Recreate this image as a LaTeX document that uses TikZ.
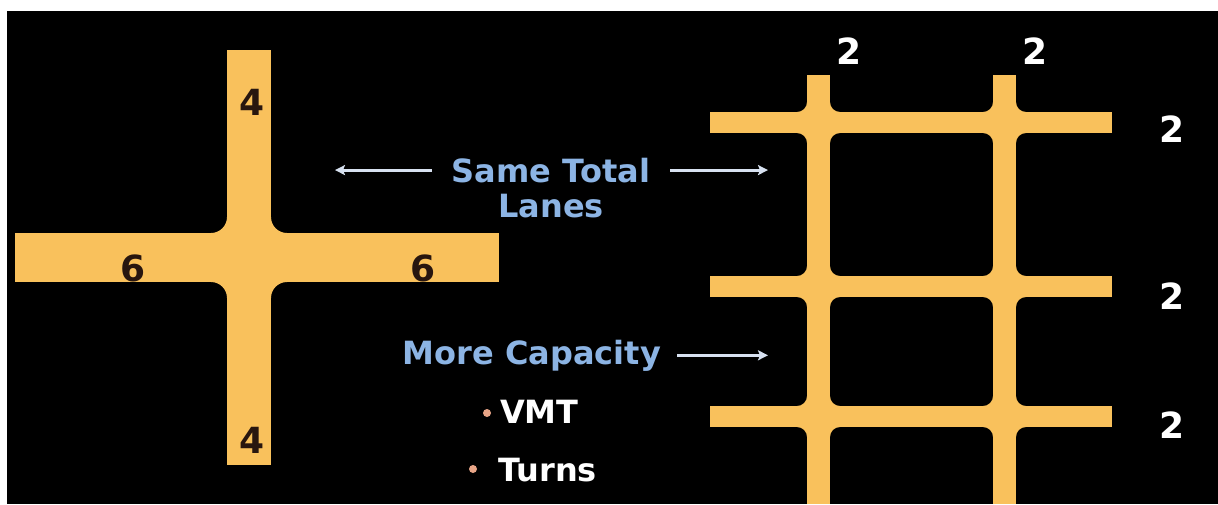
\documentclass[tikz,border=0pt]{standalone}
\usepackage{fontspec}
\setmainfont{DejaVu Sans}
\usetikzlibrary{arrows.meta}
\definecolor{road}{RGB}{249,193,92}
\definecolor{bluetxt}{RGB}{140,180,228}
\definecolor{arrowc}{RGB}{215,225,240}
\definecolor{bulletc}{RGB}{232,165,135}
\definecolor{darklbl}{RGB}{40,22,15}
\newcommand\roadfillet[5]{%
  \fill[road] ({#1},{#2}) -- ({#1},{#2+(#4)*#5}) .. controls ({#1},{#2+(#4)*0.448*#5}) and ({#1+(#3)*0.448*#5},{#2}) .. ({#1+(#3)*#5},{#2}) -- cycle;}
\tikzset{
  bluelbl/.style={text=bluetxt, font=\fontsize{32}{38}\selectfont\bfseries, inner ysep=0pt},
  whitelbl/.style={text=white, font=\fontsize{32}{38}\selectfont\bfseries, inner sep=0pt},
  darkdigit/.style={text=darklbl, font=\fontsize{36}{40}\selectfont\bfseries, inner sep=0pt},
  whitedigit/.style={text=white, font=\fontsize{36}{40}\selectfont\bfseries, inner sep=0pt},
  arr/.style={draw=arrowc, line width=3pt, -{Stealth[length=10pt,width=10pt,inset=2pt]}},
  bulletdot/.style={circle, fill=bulletc, inner sep=0pt, minimum size=8pt}
}
\begin{document}
\begin{tikzpicture}[x=1pt,y=-1pt]
\useasboundingbox (0,0) rectangle (1218,504);
\fill[white] (0,0) rectangle (1218,504);
\fill[black] (7,11) rectangle (1218,504);
% left cross
\fill[road] (227,50) rectangle (271,465);
\fill[road] (15,233) rectangle (499,282);
\roadfillet{227}{233}{-1}{-1}{16}
\roadfillet{271}{233}{1}{-1}{16}
\roadfillet{227}{282}{-1}{1}{16}
\roadfillet{271}{282}{1}{1}{16}
% right grid
\foreach \vx in {807,993} \fill[road] (\vx,75) rectangle (\vx+23,504);
\foreach \hy in {112,276,406} \fill[road] (710,\hy) rectangle (1112,\hy+21);
\foreach \vx in {807,993}{
  \foreach \hy in {112,276,406}{
    \roadfillet{\vx}{\hy}{-1}{-1}{10}
    \roadfillet{\vx+23}{\hy}{1}{-1}{10}
    \roadfillet{\vx}{\hy+21}{-1}{1}{10}
    \roadfillet{\vx+23}{\hy+21}{1}{1}{10}
  }
}
% lane labels
\node[darkdigit] (n4t) at (252,102) {4};
\node[darkdigit] (n4b) at (252,440) {4};
\node[darkdigit] (n6l) at (133,268) {6};
\node[darkdigit] (n6r) at (423,268) {6};
\node[whitedigit] (t2a) at (849,51) {2};
\node[whitedigit] (t2b) at (1035,51) {2};
\node[whitedigit] (r2a) at (1172,129) {2};
\node[whitedigit] (r2b) at (1172,296) {2};
\node[whitedigit] (r2c) at (1172,425) {2};
% texts
\node[bluelbl, anchor=base, inner xsep=20pt] (st) at (551,182) {Same Total};
\node[bluelbl, anchor=base] (ln) at (551,217) {Lanes};
\coordinate (stL) at (335,0 |- st.west);
\coordinate (stR) at (768,0 |- st.east);
\draw[arr] (st.west) -- (stL);
\draw[arr] (st.east) -- (stR);
\node[bluelbl, anchor=base, inner xsep=16pt] (mc) at (532,364) {More Capacity};
\coordinate (mcR) at (768,0 |- mc.east);
\draw[arr] (mc.east) -- (mcR);
\node[bulletdot] (b1) at (487,413) {};
\node[whitelbl, anchor=base west] (vmt) at (500,423) {VMT};
\node[bulletdot] (b2) at (473,469) {};
\node[whitelbl, anchor=base west] (tur) at (498,481) {Turns};
\end{tikzpicture}
\end{document}
